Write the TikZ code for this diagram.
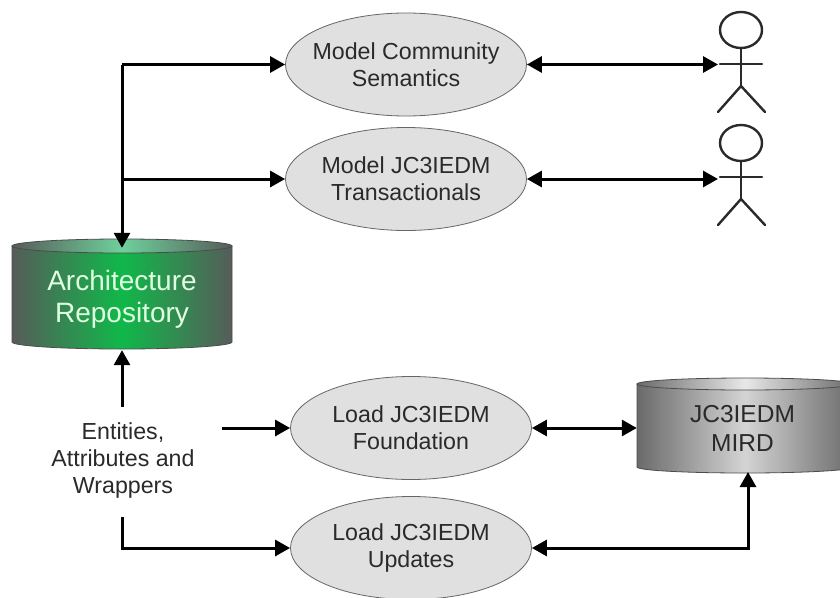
\documentclass[tikz,border=0pt]{standalone}
\usepackage{fontspec}
\setmainfont{Liberation Sans}
\usetikzlibrary{arrows.meta,shapes.geometric}
\definecolor{ellfill}{HTML}{E0E0E0}
\definecolor{ink}{HTML}{2A2A2A}
\tikzset{
  x=1pt,y=-1pt,
  usecase/.style={draw=black!60,line width=0.8pt,fill=ellfill,ellipse,minimum width=241pt,minimum height=103pt,inner sep=-30pt,align=center,font=\fontsize{23.2}{27}\selectfont,text=ink},
  conn/.style={line width=3pt,draw=black,-{Triangle[length=15pt,width=16pt]}},
  biconn/.style={line width=3pt,draw=black,{Triangle[length=15pt,width=16pt]}-{Triangle[length=15pt,width=16pt]}},
  stick/.style={line width=2.4pt,draw=ink,line cap=round},
  anchorbox/.style={inner sep=0pt,align=center},
}
\newcommand{\drum}[8]{% x0 x1 ytop ybot ry sidecol midcol topcol
  \path[left color=#6,right color=#6,middle color=#7,draw=black!70,line width=0.8pt]
    (#1,#3) -- (#1,#4) arc[start angle=180,end angle=0,x radius={(#2-#1)/2},y radius=#5] -- (#2,#3) -- cycle;
  \path[left color=#6,right color=#6,middle color=#8,draw=black!70,line width=0.8pt]
    (#1,#3) arc[start angle=180,end angle=540,x radius={(#2-#1)/2},y radius=#5] -- cycle;
}
\begin{document}
\begin{tikzpicture}
\useasboundingbox (0,0) rectangle (840,597);
\fill[white] (0,0) rectangle (840,597);
\definecolor{gside}{HTML}{565C59}\definecolor{gmid}{HTML}{10B84A}\definecolor{gtop}{HTML}{6FD09C}
\definecolor{sside}{HTML}{6A6A6A}\definecolor{smid}{HTML}{D4D4D4}\definecolor{stop}{HTML}{E8E8E8}
\drum{12}{232}{246}{342}{7}{gside}{gmid}{gtop}
\drum{637}{853}{384}{467}{6}{sside}{smid}{stop}
\node[anchorbox,minimum width=220pt,minimum height=102pt,font=\fontsize{28}{32}\selectfont,text=white!88!green] (arch) at (122,299) {Architecture\\Repository};
\node[anchorbox,minimum width=211pt,minimum height=88pt,font=\fontsize{24.5}{29}\selectfont,text=ink] (mird) at (742.5,428) {JC3IEDM\\MIRD};
\node[usecase] (mcs) at (406,64.5) {Model Community\\Semantics};
\node[usecase] (mjt) at (406,179) {Model JC3IEDM\\Transactionals};
\node[usecase] (ljf) at (411,428) {Load JC3IEDM\\Foundation};
\node[usecase] (lju) at (411,548) {Load JC3IEDM\\Updates};
\node[anchorbox,font=\fontsize{23.2}{27}\selectfont,text=ink] (eaw) at (123,460) {Entities,\\Attributes and\\Wrappers};
% actors
\foreach \n/\dy in {a/0,b/113}{
  \begin{scope}[yshift=-\dy pt]
    \draw[stick] (741,30) ellipse[x radius=21,y radius=18];
    \draw[stick] (741,48) -- (741,86);
    \draw[stick] (720,64) -- (762,64);
    \draw[stick] (718,112) -- (741,86) -- (765,112);
    \coordinate (\n) at (718,65);
  \end{scope}
}
\coordinate (t) at (122,64.5);
\coordinate (m) at (122,179);
\coordinate (u) at (122,407);
\coordinate (c) at (122,517);
\coordinate (d) at (122,548);
\coordinate (e) at (748,548);
\coordinate (ef) at (222,428);
\draw[conn] (t) -- (arch.north -| t);
\draw[conn] (m) -- (mjt.west);
\draw[conn] (t) -- (mcs.west);
\draw[conn] (u) -- (arch.south -| u);
\draw[conn] (ef) -- (ljf.west);
\draw[conn] (c) -- (d) -- (lju.west);
\draw[biconn] (mcs.east) -- (mcs.east -| a);
\draw[biconn] (mjt.east) -- (mjt.east -| b);
\draw[biconn] (ljf.east) -- (mird.west);
\draw[biconn] (lju.east) -- (e) -- (748,472);
\end{tikzpicture}
\end{document}
